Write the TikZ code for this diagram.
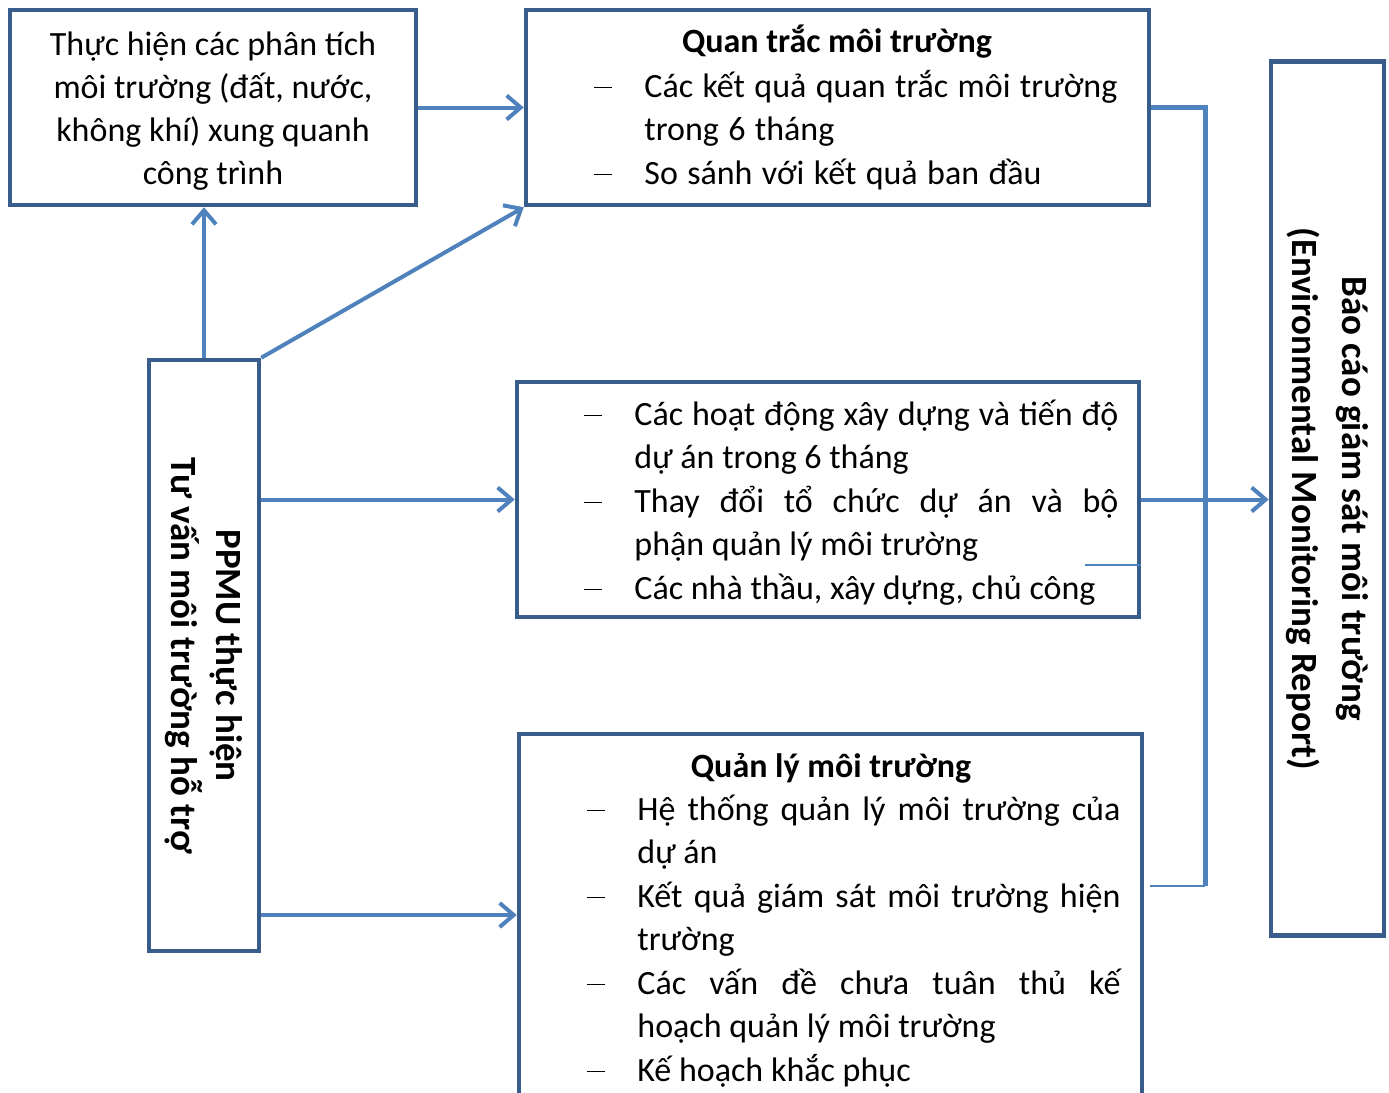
\documentclass[tikz,border=0pt]{standalone}
\usepackage{fontspec}
\setmainfont{Carlito}
\usetikzlibrary{arrows.meta}

\definecolor{boxblue}{RGB}{56,93,138}
\definecolor{linkblue}{RGB}{79,129,189}

\newcommand{\dashitem}[1]{\par\hangindent=25pt\hangafter=1\noindent\makebox[25pt][l]{\strut\rule[4.6pt]{9pt}{0.8pt}}#1}

\tikzset{
  box/.style={draw=boxblue, line width=2.25pt, fill=white, inner sep=0pt},
  txt/.style={inner sep=0pt, font=\fontsize{17}{21.5}\selectfont\setlength{\parskip}{0.5pt}},
  title/.style={txt, font=\fontsize{17}{21.5}\selectfont\bfseries, anchor=base},
  list/.style={txt, anchor=north west},
  side/.style={inner sep=0pt, rotate=-90, align=center},
  link/.style={linkblue, line width=2pt, -{Straight Barb[length=7pt, width=12pt]}},
  bus/.style={linkblue, line width=2.5pt},
  thinlink/.style={linkblue, line width=0.8pt}
}

\begin{document}
\begin{tikzpicture}[x=0.5pt, y=-0.5pt]
    \useasboundingbox (0,0) rectangle (1389,1093);
    \clip (0,0) rectangle (1389,1093);

    % The boxes
    \node[box, minimum width=203pt, minimum height=97.5pt] (phantich) at (213,107.5) {};
    \node[box, minimum width=311.5pt, minimum height=97.5pt] (quantrac) at (837.5,107.5) {};
    \node[box, minimum width=311pt, minimum height=117.5pt] (hoatdong) at (828,499.5) {};
    \node[box, minimum width=311.5pt, minimum height=193pt] (quanly) at (830.5,927) {};
    \node[box, minimum width=55pt, minimum height=295.5pt] (ppmu) at (204,655.5) {};
    \node[box, minimum width=56.5pt, minimum height=437pt] (baocao) at (1327.5,498.5) {};

    % Analyses around the site
    \node[txt, align=center] (phantichtext) at (213,111)
        {Thực hiện các phân tích\\môi trường (đất, nước,\\không khí) xung quanh\\công trình};

    % Monitoring results
    \node[title] (quantractitle) at (837,52) {Quan trắc môi trường};
    \node[list, text width=272pt, align=left] (quantraclist) at (594,53)
        {\spaceskip=4.7pt plus 1pt minus 0.5pt
         \dashitem{Các kết quả quan trắc môi trường\newline trong 6 tháng}\dashitem{So sánh với kết quả ban đầu}};

    % Construction progress
    \node[list, text width=267pt, align=justify] (hoatdonglist) at (584,381)
        {\dashitem{Các hoạt động xây dựng và tiến độ\linebreak dự án trong 6 tháng}\dashitem{Thay đổi tổ chức dự án và bộ\linebreak phận quản lý môi trường}\dashitem{Các nhà thầu, xây dựng, chủ công}};

    % Environmental management
    \node[title] (quanlytitle) at (831,777) {Quản lý môi trường};
    \node[list, text width=266.5pt, align=justify] (quanlylist) at (587,776)
        {\dashitem{Hệ thống quản lý môi trường của\linebreak dự án}\dashitem{Kết quả giám sát môi trường hiện\linebreak trường}\dashitem{Các vấn đề chưa tuân thủ kế\linebreak hoạch quản lý môi trường}\dashitem{Kế hoạch khắc phục}};

    % Vertical labels
    \node[side, font=\fontsize{18.5}{22.5}\selectfont\bfseries] (ppmutext) at (ppmu)
        {PPMU thực hiện\\Tư vấn môi trường hỗ trợ};
    \node[side, font=\fontsize{18.5}{25}\selectfont\bfseries] (baocaotext) at (baocao)
        {Báo cáo giám sát môi trường\\(Environmental Monitoring Report)};

    % Connectors
    \draw[link] (phantich) -- (quantrac);
    \draw[link] (ppmu.north) -- (ppmu.north |- phantich.south);
    \draw[link] (ppmu.north east) -- (quantrac.south west);
    \draw[link] (ppmu.east |- hoatdong) -- (hoatdong.west);
    \draw[link] (ppmu.east |- 0,915) -- (quanly.west |- 0,915);

    % Collecting line on the right
    \coordinate (busend) at (1205,886);
    \draw[bus] (quantrac.east) -| (busend);
    \draw[thinlink] (busend) -- (1150,886);
    \draw[thinlink] (1085,565) -- (hoatdong.east |- 0,565);
    \draw[link] (hoatdong.east) -- (hoatdong.east -| baocao.west);
\end{tikzpicture}
\end{document}
